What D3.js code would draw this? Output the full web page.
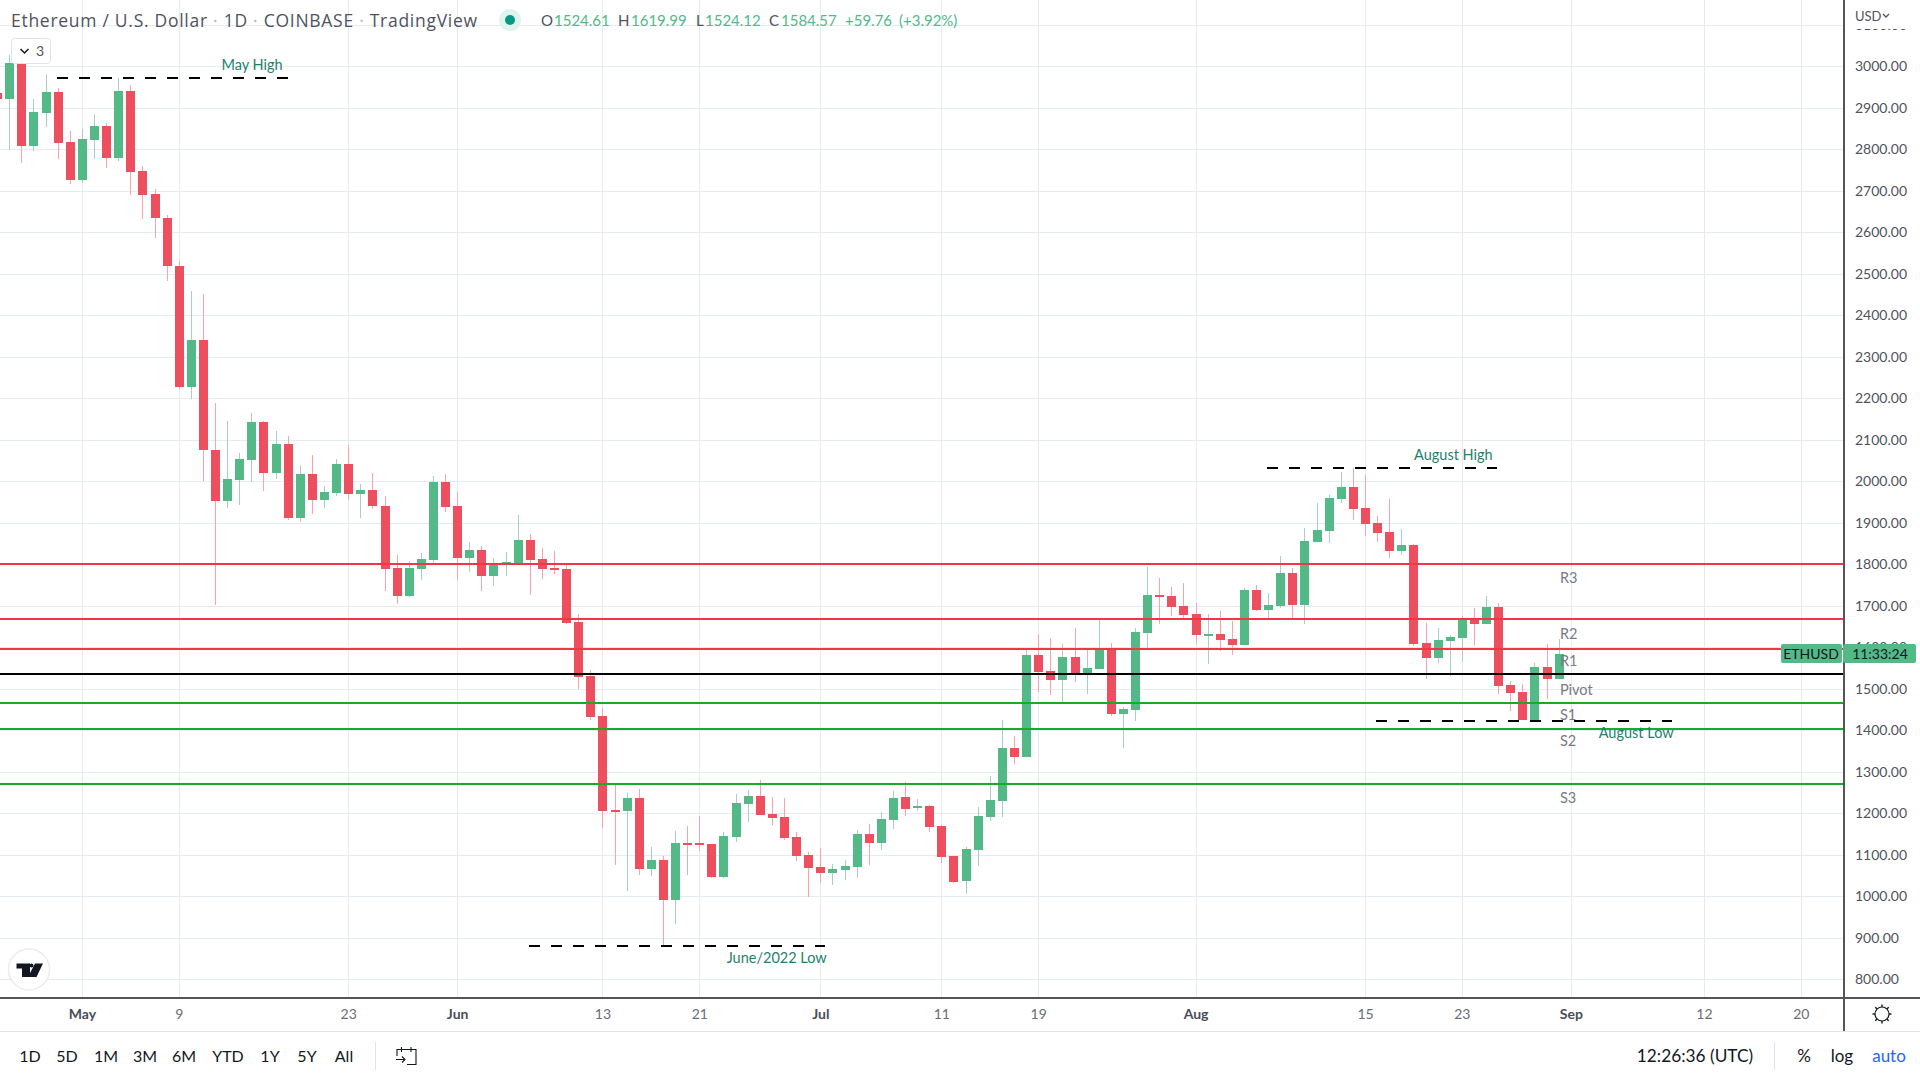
<!DOCTYPE html>
<html>
<head>
<meta charset="utf-8">
<title>ETHUSD</title>
<script src="https://cdn.jsdelivr.net/npm/d3@7"></script>
<style>
  html, body { margin: 0; padding: 0; background: #fff; }
  svg { display: block; }
  text { font-family: Lato, "Noto Sans", sans-serif; }
</style>
</head>
<body>
<div id="chart"></div>
<script>
// daily candles, first one is 24 Apr 2022, last one 31 Aug 2022
const firstDay = Date.UTC(2022, 3, 24);
const opens = [2936,2921,3007,2808,2887,2938,2818,2726,2822,2856,2779,2940,2748,2692,2634,2519,2227,2340,2075,1952,2003,2051,2143,2020,2090,1911,2017,1955,1972,2042,1969,1979,1940,1791,1723,1789,1810,1998,1940,1815,1834,1772,1801,1802,1858,1813,1791,1789,1661,1531,1434,1208,1205,1237,1066,1087,991,1128,1128,1126,1046,1143,1222,1242,1198,1191,1143,1099,1070,1056,1063,1070,1150,1128,1184,1239,1213,1217,1169,1097,1037,1111,1191,1230,1357,1335,1581,1543,1521,1576,1537,1548,1596,1439,1449,1634,1726,1723,1699,1680,1629,1632,1620,1605,1738,1690,1699,1779,1702,1854,1880,1957,1986,1935,1899,1878,1832,1846,1610,1574,1615,1622,1668,1656,1697,1509,1492,1425,1552,1524.61];
const highs = [2950,3027,3030,2921,2981,2948,2844,2849,2885,2863,2972,2955,2760,2704,2642,2531,2459,2451,2189,2145,2068,2164,2145,2121,2109,2039,2063,1989,2054,2087,1993,2020,1964,1822,1808,1827,2013,2017,1974,1854,1844,1815,1830,1919,1873,1839,1832,1798,1680,1545,1454,1268,1249,1258,1119,1097,1157,1169,1193,1126,1155,1246,1256,1280,1239,1237,1155,1107,1116,1078,1087,1160,1174,1203,1254,1275,1234,1219,1172,1097,1119,1215,1290,1425,1386,1593,1632,1622,1608,1646,1593,1666,1610,1456,1646,1793,1767,1745,1755,1707,1680,1687,1663,1743,1750,1731,1820,1791,1887,1948,1967,2022,2032,2015,1916,1957,1885,1849,1658,1646,1630,1675,1695,1723,1707,1519,1511,1562,1608,1619.99];
const lows = [2905,2798,2767,2796,2854,2777,2716,2719,2777,2755,2772,2690,2632,2586,2483,2222,2198,2001,1702,1936,1943,1998,1976,2005,1907,1901,1921,1936,1964,1955,1911,1933,1736,1704,1721,1762,1801,1926,1762,1781,1736,1748,1772,1802,1726,1765,1777,1656,1499,1425,1164,1075,1013,1051,1049,882,933,1051,1109,1044,1044,1131,1179,1196,1172,1135,1085,998,1032,1027,1039,1044,1075,1111,1162,1193,1205,1155,1080,1032,1005,1073,1181,1191,1319,1335,1492,1485,1468,1516,1487,1548,1434,1357,1422,1598,1656,1675,1670,1608,1560,1591,1581,1605,1687,1670,1695,1670,1656,1854,1851,1948,1907,1868,1854,1815,1822,1603,1523,1562,1531,1565,1605,1656,1487,1446,1425,1422,1475,1524.12];
const closes = [2921,3007,2808,2890,2938,2815,2726,2825,2856,2779,2940,2745,2690,2634,2519,2227,2340,2075,1952,2005,2054,2143,2020,2090,1911,2017,1955,1974,2042,1969,1979,1940,1789,1723,1791,1813,1998,1938,1815,1834,1772,1798,1805,1858,1810,1789,1786,1658,1528,1432,1205,1205,1237,1066,1087,991,1128,1126,1123,1046,1145,1225,1242,1196,1188,1140,1097,1068,1056,1066,1073,1150,1128,1186,1237,1210,1217,1167,1095,1034,1114,1193,1232,1357,1335,1581,1540,1521,1576,1538,1550,1593,1439,1451,1637,1726,1721,1697,1678,1629,1632,1617,1605,1738,1690,1702,1779,1702,1856,1882,1960,1986,1933,1897,1875,1832,1846,1608,1574,1617,1625,1666,1656,1697,1507,1490,1425,1552,1523,1584.57];

// price axis
const priceTicks = [3100,3000,2900,2800,2700,2600,2500,2400,2300,2200,2100,2000,1900,1800,1700,1600,1500,1400,1300,1200,1100,1000,900,800];

// time axis
const timeTicks = [[2022,4,1],[2022,4,9],[2022,4,23],[2022,5,1],[2022,5,13],[2022,5,21],[2022,6,1],[2022,6,11],[2022,6,19],[2022,7,1],[2022,7,15],[2022,7,23],[2022,8,1],[2022,8,12],[2022,8,20]].map(d => new Date(Date.UTC(d[0], d[1], d[2])));
const timeLabels = ["May","9","23","Jun","13","21","Jul","11","19","Aug","15","23","Sep","12","20"];

// pivot levels
const levelNames = ["R3","R2","R1","Pivot","S1","S2","S3"];
const levelPrices = [1800.6,1669,1596.6,1536,1466.5,1403,1270.5];
const levelLabelPrices = [1767.5,1632.5,1567.5,1497.6,1437.4,1374,1236];
const levelColors = ["#f23645","#f23645","#f23645","#000000","#1aab26","#1aab26","#1aab26"];

// dashed highs and lows, days counted from 1 May
const noteNames = ["May High","August High","June/2022 Low","August Low"];
const notePrices = [2972,2032,880,1423];
const noteFrom = [-2.05,97.9,36.9,106.9];
const noteTo = [17,116.9,61.4,131.4];
const noteTextDay = [14.06,113.3,57.4,128.4];
const noteTextPrice = [3003,2063,851,1393];

const rangeButtons = ["1D","5D","1M","3M","6M","YTD","1Y","5Y","All"];
const rangeButtonX = [30,67,106,145,184,228,270,307,344];

const width = 1920, height = 1080;
const plotRight = 1843, plotBottom = 997;
const green = "#53b987", red = "#ee4f5f";
const textGrey = "#50535e";

const svg = d3.select("#chart").append("svg")
  .attr("width", width)
  .attr("height", height)
  .attr("viewBox", `0 0 ${width} ${height}`);

const x = d3.scaleUtc()
  .domain([new Date(Date.UTC(2022, 4, 1)), new Date(Date.UTC(2022, 8, 20))])
  .range([81.9, 1800.8]);
const y = d3.scaleLinear()
  .domain([3000, 800])
  .range([66.3, 979.3]);
const may1 = Date.UTC(2022, 4, 1);
const xDay = d => x(new Date(may1 + d * 864e5));

svg.append("defs").append("clipPath").attr("id", "plot")
  .append("rect").attr("width", plotRight).attr("height", plotBottom);
const plot = svg.append("g").attr("clip-path", "url(#plot)");

// grid
const grid = plot.append("g").attr("shape-rendering", "crispEdges").attr("stroke", "#e4ecf2");
grid.selectAll(".h").data(priceTicks).enter().append("line")
  .attr("x1", 0).attr("x2", plotRight)
  .attr("y1", d => Math.round(y(d)) + 0.5)
  .attr("y2", d => Math.round(y(d)) + 0.5);
grid.selectAll(".v").data(timeTicks).enter().append("line")
  .attr("y1", 0).attr("y2", plotBottom)
  .attr("x1", d => Math.round(x(d)) + 0.5)
  .attr("x2", d => Math.round(x(d)) + 0.5);

// candles
const candles = opens.map((o, i) => ({
  date: new Date(firstDay + i * 864e5), o, h: highs[i], l: lows[i], c: closes[i]
}));
const candle = plot.append("g").attr("shape-rendering", "crispEdges")
  .selectAll("g").data(candles).enter().append("g");
candle.append("rect")
  .attr("x", d => Math.round(x(d.date)))
  .attr("width", 1)
  .attr("y", d => Math.round(y(d.h)))
  .attr("height", d => Math.max(1, Math.round(y(d.l)) - Math.round(y(d.h))))
  .attr("fill", d => d.c >= d.o ? "#a6cfc9" : "#f8a3ae");
candle.append("rect")
  .attr("x", d => Math.round(x(d.date)) - 4)
  .attr("width", 9)
  .attr("y", d => Math.round(y(Math.max(d.o, d.c))))
  .attr("height", d => Math.max(2, Math.round(y(Math.min(d.o, d.c))) - Math.round(y(Math.max(d.o, d.c)))))
  .attr("fill", d => d.c >= d.o ? green : red);

// pivot lines go over the candles
plot.append("g").attr("shape-rendering", "crispEdges")
  .selectAll("line").data(levelPrices).enter().append("line")
  .attr("x1", 0).attr("x2", plotRight)
  .attr("y1", d => Math.round(y(d)))
  .attr("y2", d => Math.round(y(d)))
  .attr("stroke", (d, i) => levelColors[i])
  .attr("stroke-width", 2);
plot.append("g").selectAll("text").data(levelNames).enter().append("text")
  .attr("x", xDay(122.1))
  .attr("y", (d, i) => y(levelLabelPrices[i]))
  .attr("dy", "0.35em")
  .attr("font-size", 14.5)
  .attr("fill", "#787b86")
  .text(d => d);

// dashed highs and lows
plot.append("g").attr("shape-rendering", "crispEdges")
  .selectAll("line").data(notePrices).enter().append("line")
  .attr("x1", (d, i) => xDay(noteFrom[i]))
  .attr("x2", (d, i) => xDay(noteTo[i]))
  .attr("y1", d => Math.round(y(d)))
  .attr("y2", d => Math.round(y(d)))
  .attr("stroke", "#000")
  .attr("stroke-width", 2)
  .attr("stroke-dasharray", "11 11");
plot.append("g").selectAll("text").data(noteNames).enter().append("text")
  .attr("x", (d, i) => xDay(noteTextDay[i]))
  .attr("y", (d, i) => y(noteTextPrice[i]))
  .attr("dy", "0.35em")
  .attr("text-anchor", "middle")
  .attr("font-size", 14.5)
  .attr("fill", "#1f7f6d")
  .text(d => d);

// price axis
const yAxis = svg.append("g")
  .attr("transform", `translate(${plotRight},0)`)
  .call(d3.axisRight(y).tickValues(priceTicks).tickFormat(d3.format(".2f")).tickSize(0).tickPadding(12));
yAxis.select(".domain").remove();
yAxis.selectAll("text")
  .attr("font-size", 14)
  .attr("fill", textGrey)
  .style("font-family", "Lato, sans-serif");

// time axis
const xAxis = svg.append("g")
  .attr("transform", `translate(0,${plotBottom})`)
  .call(d3.axisBottom(x).tickValues(timeTicks).tickFormat((d, i) => timeLabels[i]).tickSize(0).tickPadding(12));
xAxis.select(".domain").remove();
xAxis.selectAll("text")
  .attr("font-size", 14)
  .attr("fill", (d, i) => isNaN(+timeLabels[i]) ? "#4a4d58" : "#6a6d78")
  .attr("font-weight", (d, i) => isNaN(+timeLabels[i]) ? 700 : 400)
  .style("font-family", "Lato, sans-serif");

// frame
const frame = svg.append("g").attr("shape-rendering", "crispEdges");
frame.append("rect").attr("x", 0).attr("y", plotBottom).attr("width", width).attr("height", 1.5).attr("fill", "#555");
frame.append("rect").attr("x", plotRight).attr("y", 0).attr("width", 1.5).attr("height", 1032).attr("fill", "#555");
frame.append("rect").attr("x", 0).attr("y", 1031).attr("width", width).attr("height", 1).attr("fill", "#e0e3eb");
frame.append("rect").attr("x", 1845).attr("y", 0).attr("width", 75).attr("height", 29).attr("fill", "#fff");
frame.append("rect").attr("x", 375).attr("y", 1042).attr("width", 1).attr("height", 28).attr("fill", "#e0e3eb");
frame.append("rect").attr("x", 1774).attr("y", 1042).attr("width", 1).attr("height", 28).attr("fill", "#e0e3eb");

// currency
svg.append("text").attr("x", 1855).attr("y", 21).attr("font-size", 13).attr("fill", textGrey).text("USD");
svg.append("path").attr("d", "M1883 14l3 3 3-3").attr("fill", "none").attr("stroke", textGrey).attr("stroke-width", 1.3);

// last price tag
const lastY = Math.round(y(closes[closes.length - 1]));
const tag = svg.append("g");
tag.append("rect").attr("x", 1781).attr("y", lastY - 10).attr("width", 61).attr("height", 19).attr("rx", 2).attr("fill", green);
tag.append("rect").attr("x", 1843).attr("y", lastY - 10).attr("width", 73).attr("height", 19).attr("rx", 2).attr("fill", green);
tag.append("text").attr("x", 1811).attr("y", lastY).attr("dy", "0.35em").attr("text-anchor", "middle").attr("font-size", 14).attr("fill", "#131722").text("ETHUSD");
tag.append("text").attr("x", 1880).attr("y", lastY).attr("dy", "0.35em").attr("text-anchor", "middle").attr("font-size", 14).attr("fill", "#131722").text("11:33:24");

// header
const title = svg.append("text").attr("x", 11).attr("y", 27).attr("font-size", 17.5).attr("fill", textGrey)
  .attr("letter-spacing", 0.72)
  .style("font-family", "'Open Sans', sans-serif");
title.append("tspan").text("Ethereum / U.S. Dollar ");
title.append("tspan").attr("fill", "#b2b5be").text("·");
title.append("tspan").text(" 1D ");
title.append("tspan").attr("fill", "#b2b5be").text("·");
title.append("tspan").text(" COINBASE ");
title.append("tspan").attr("fill", "#b2b5be").text("·");
title.append("tspan").text(" TradingView");

svg.append("circle").attr("cx", 510).attr("cy", 20).attr("r", 11).attr("fill", "#dff3ef");
svg.append("circle").attr("cx", 510).attr("cy", 20).attr("r", 5).attr("fill", "#089981");

const ohlcLabels = ["O","H","L","C"];
const ohlcLabelX = [541,618,696,769];
const ohlcValueX = [554,631,705,781];
const ohlcValues = [opens[opens.length - 1], highs[highs.length - 1], lows[lows.length - 1], closes[closes.length - 1]];
svg.append("g").selectAll("text").data(ohlcLabels).enter().append("text")
  .attr("x", (d, i) => ohlcLabelX[i]).attr("y", 26).attr("font-size", 15).attr("fill", textGrey).text(d => d);
svg.append("g").selectAll("text").data(ohlcValues).enter().append("text")
  .attr("x", (d, i) => ohlcValueX[i]).attr("y", 26).attr("font-size", 15).attr("fill", green).text(d => d.toFixed(2));
svg.append("text").attr("x", 845).attr("y", 26).attr("font-size", 15).attr("fill", green).text("+59.76");
svg.append("text").attr("x", 899).attr("y", 26).attr("font-size", 15).attr("fill", green).text("(+3.92%)");

// collapsed indicators button
svg.append("rect").attr("x", 11.5).attr("y", 38.5).attr("width", 39).attr("height", 25).attr("rx", 3)
  .attr("fill", "#fff").attr("fill-opacity", 0.9).attr("stroke", "#e0e3eb");
svg.append("path").attr("d", "M20.5 49l4 4 4-4").attr("fill", "none").attr("stroke", "#131722").attr("stroke-width", 1.5);
svg.append("text").attr("x", 40).attr("y", 56).attr("text-anchor", "middle").attr("font-size", 14).attr("fill", textGrey).text("3");

// logo
svg.append("circle").attr("cx", 29).attr("cy", 969.5).attr("r", 20.5).attr("fill", "#fff").attr("stroke", "#ececec").attr("stroke-width", 1.5);
svg.append("path").attr("d", "M16.5 963.5H30V977H22V968.5H16.5ZM35 963.5H43L36.5 977H28Z").attr("fill", "#131722");
svg.append("circle").attr("cx", 31.5).attr("cy", 965.5).attr("r", 2).attr("fill", "#131722");

// settings gear
const gear = svg.append("g").attr("transform", "translate(1882,1014)").attr("fill", "none").attr("stroke", "#131722");
gear.append("circle").attr("r", 7).attr("stroke-width", 1.2);
gear.selectAll("line").data(d3.range(8)).enter().append("line")
  .attr("x1", d => 7 * Math.cos(d * Math.PI / 4))
  .attr("y1", d => 7 * Math.sin(d * Math.PI / 4))
  .attr("x2", d => 9.5 * Math.cos(d * Math.PI / 4))
  .attr("y2", d => 9.5 * Math.sin(d * Math.PI / 4))
  .attr("stroke-width", 1.4);

// bottom toolbar
const bar = svg.append("g");
bar.selectAll(".btn").data(rangeButtons).enter().append("text")
  .attr("x", (d, i) => rangeButtonX[i])
  .attr("y", 1056)
  .attr("dy", "0.35em")
  .attr("text-anchor", "middle")
  .attr("font-size", 16)
  .attr("fill", "#131722")
  .text(d => d);
svg.append("path")
  .attr("d", "M397 1056V1049.5H416V1064.5H407M401.5 1047V1052M411 1047V1052M396 1059.5H405M402 1056.5L405 1059.5L402 1062.5")
  .attr("fill", "none").attr("stroke", "#131722").attr("stroke-width", 1.1);

bar.append("text").attr("x", 1695).attr("y", 1056).attr("dy", "0.35em").attr("text-anchor", "middle").attr("font-size", 17.3).attr("fill", "#131722").text("12:26:36 (UTC)");
bar.append("text").attr("x", 1804).attr("y", 1056).attr("dy", "0.35em").attr("text-anchor", "middle").attr("font-size", 17).attr("fill", "#131722").text("%");
bar.append("text").attr("x", 1842).attr("y", 1056).attr("dy", "0.35em").attr("text-anchor", "middle").attr("font-size", 17).attr("fill", "#131722").text("log");
bar.append("text").attr("x", 1889).attr("y", 1056).attr("dy", "0.35em").attr("text-anchor", "middle").attr("font-size", 17).attr("fill", "#2962ff").text("auto");
</script>
</body>
</html>
